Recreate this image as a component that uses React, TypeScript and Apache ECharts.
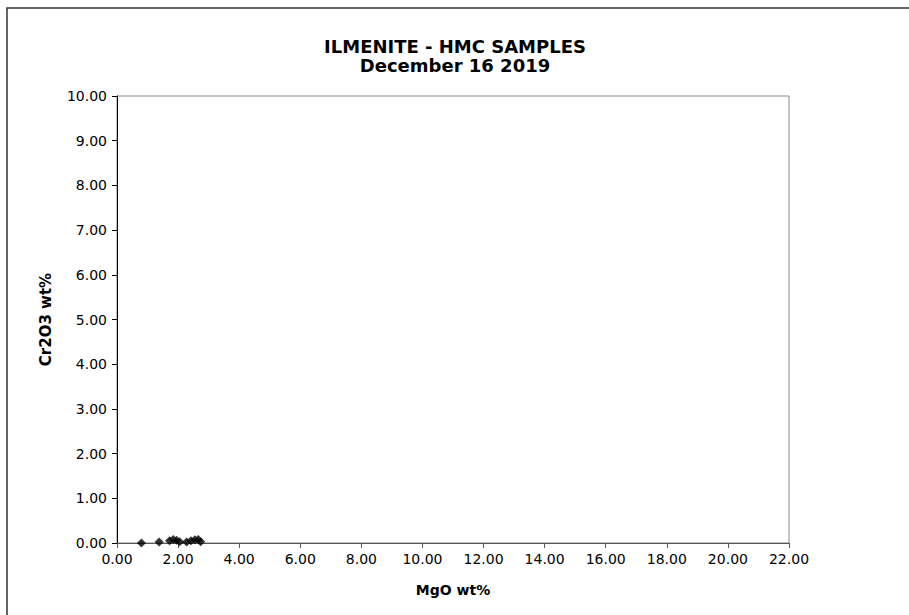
import React, { useEffect, useRef } from "react";
import * as echarts from "echarts";

const titleLines = ["ILMENITE - HMC SAMPLES", "December 16 2019"];
const xName = "MgO wt%";
const yName = "Cr2O3 wt%";
const mgo = [0.8, 1.38, 1.72, 1.84, 1.95, 2.05, 2.28, 2.42, 2.55, 2.66, 2.74];
const cr2o3 = [0.0, 0.02, 0.05, 0.08, 0.06, 0.03, 0.02, 0.05, 0.07, 0.08, 0.03];

export default function App() {
  const ref = useRef<HTMLDivElement>(null);
  useEffect(() => {
    if (!ref.current) return;
    const chart = echarts.init(ref.current, null, { renderer: "svg" });
    const font = "'DejaVu Sans', Arial, sans-serif";
    chart.setOption({
      animation: false,
      backgroundColor: "#fff",
      title: {
        text: titleLines.join("\n"),
        left: 450,
        textAlign: "center",
        top: 32,
        textStyle: { fontFamily: font, fontSize: 18, fontWeight: "bold", color: "#000", lineHeight: 19 },
      },
      graphic: [
        {
          type: "rect",
          shape: { x: 7, y: 8, width: 1000, height: 1000 },
          style: { fill: "none", stroke: "#333", lineWidth: 1.5 },
          silent: true,
        },
      ],
      grid: {
        left: 117,
        right: 120,
        top: 96,
        bottom: 72,
        show: true,
        borderColor: "#888",
        borderWidth: 1,
        backgroundColor: "transparent",
      },
      xAxis: {
        type: "value",
        min: 0,
        max: 22,
        interval: 2,
        name: xName,
        nameLocation: "middle",
        nameGap: 40,
        nameTextStyle: { fontFamily: font, fontSize: 14, fontWeight: "bold", color: "#000" },
        axisLine: { show: true, lineStyle: { color: "#555", width: 1 } },
        axisTick: { show: true, length: 5, inside: false, lineStyle: { color: "#555" } },
        axisLabel: {
          fontFamily: font,
          fontSize: 14,
          color: "#000",
          margin: 9,
          formatter: (v: number) => v.toFixed(2),
        },
        splitLine: { show: false },
      },
      yAxis: {
        type: "value",
        min: 0,
        max: 10,
        interval: 1,
        name: yName,
        nameLocation: "middle",
        nameGap: 64,
        nameTextStyle: { fontFamily: font, fontSize: 15, fontWeight: "bold", color: "#000" },
        axisLine: { show: true, lineStyle: { color: "#000", width: 1 } },
        axisTick: { show: true, length: 5, inside: false, lineStyle: { color: "#000" } },
        axisLabel: {
          fontFamily: font,
          fontSize: 14,
          color: "#000",
          margin: 10,
          formatter: (v: number) => v.toFixed(2),
        },
        splitLine: { show: false },
      },
      series: [
        {
          type: "scatter",
          symbol: "diamond",
          symbolSize: 9,
          itemStyle: { color: "#000" },
          data: mgo.map((x, i) => [x, cr2o3[i]]),
        },
      ],
    });
    return () => chart.dispose();
  }, []);
  return (
    <div
      ref={ref}
      style={{ position: "fixed", left: 0, top: 0, width: 909, height: 615 }}
    />
  );
}
